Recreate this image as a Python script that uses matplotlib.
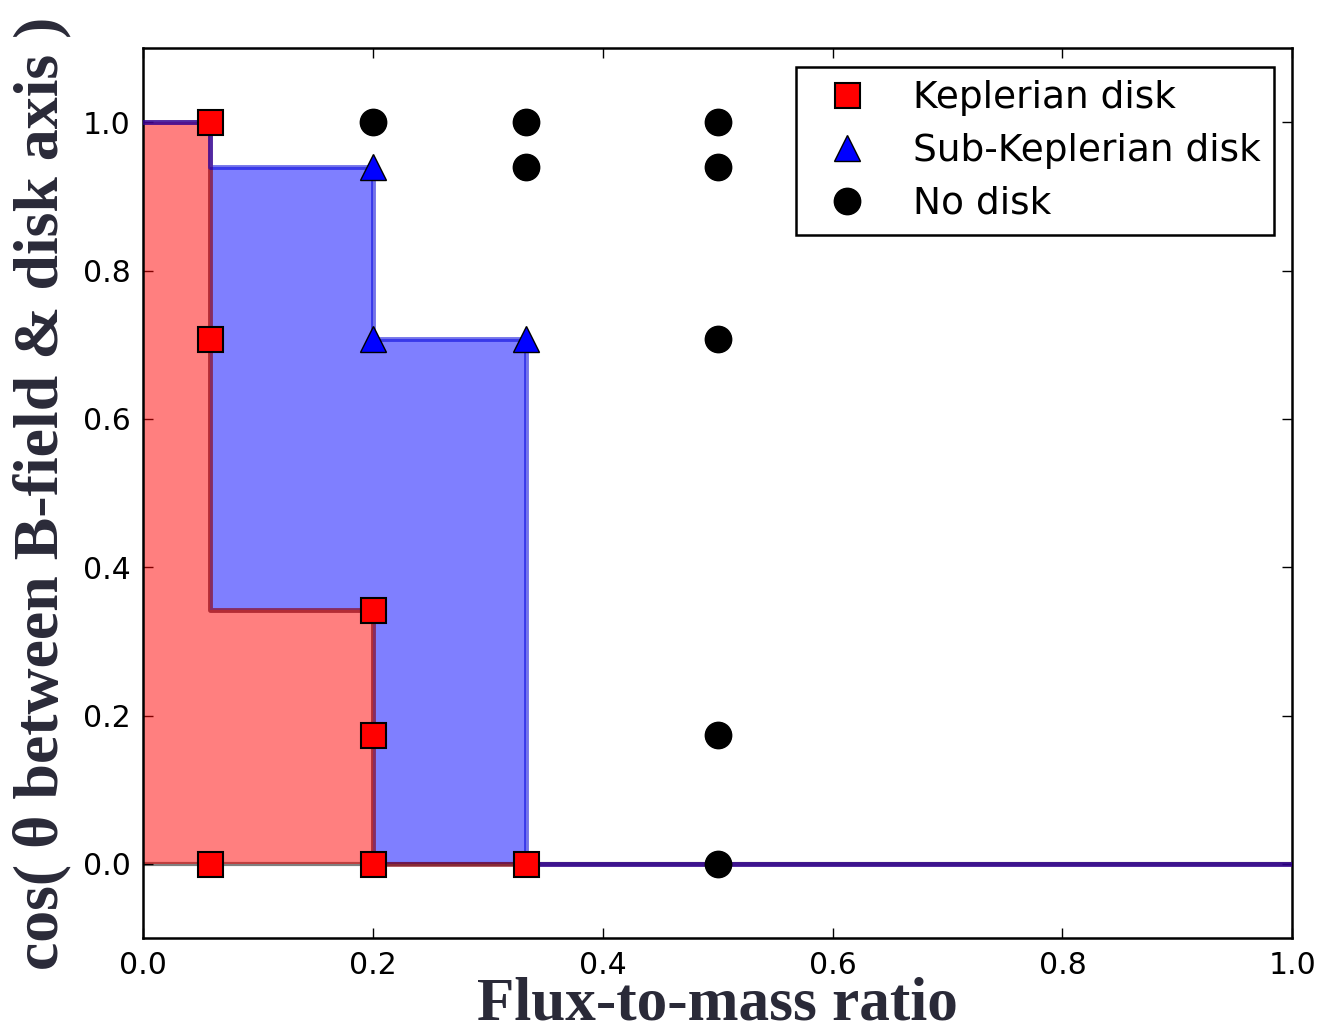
import numpy as np
import matplotlib.pyplot as plt

# cos(theta) levels for 0, 20, 45, 70, 80, 90 degrees
kep_x = [0.058, 0.058, 0.058, 0.2, 0.2, 0.2, 0.333]
kep_y = [1.0, 0.707, 0.0, 0.342, 0.174, 0.0, 0.0]

sub_x = [0.2, 0.2, 0.333]
sub_y = [0.94, 0.707, 0.707]

nod_x = [0.2, 0.333, 0.333, 0.5, 0.5, 0.5, 0.5, 0.5]
nod_y = [1.0, 1.0, 0.94, 1.0, 0.94, 0.707, 0.174, 0.0]

# step boundaries (value holds until next x)
edge_x = [0.0, 0.058, 0.2, 0.333, 1.0]
kep_edge = [1.0, 0.342, 0.0, 0.0, 0.0]
sub_edge = [1.0, 0.94, 0.707, 0.0, 0.0]

label_color = '#2a2a38'
serif = ['Liberation Serif', 'DejaVu Serif']

fig = plt.figure(figsize=(13.21, 10.28), dpi=100)
ax = fig.add_axes([0.1083, 0.0875, 0.8700, 0.8658])

ax.axhline(0.0, color='gray', lw=3, zorder=1)
ax.fill_between(edge_x, 0, kep_edge, step='post', facecolor='red', alpha=0.5, lw=0, zorder=2)
ax.fill_between(edge_x, kep_edge, sub_edge, step='post', facecolor='blue', alpha=0.5, lw=0, zorder=2)
ax.step(edge_x, kep_edge, where='post', color=(0.55, 0.0, 0.05), alpha=0.65, lw=3.5, zorder=3)
ax.step(edge_x, sub_edge, where='post', color=(0.0, 0.0, 0.85), alpha=0.55, lw=3.5, zorder=3)

ax.plot(kep_x, kep_y, 's', color='red', mec='black', mew=1.5, ms=18, ls='none',
        label='Keplerian disk', zorder=5)
ax.plot(sub_x, sub_y, '^', color='blue', mec='black', mew=1.0, ms=19, ls='none',
        label='Sub-Keplerian disk', zorder=5)
ax.plot(nod_x, nod_y, 'o', color='black', mec='black', ms=19, ls='none',
        label='No disk', zorder=5)

ax.set_xlim(0.0, 1.0)
ax.set_ylim(-0.1, 1.1)
ax.set_xticks(np.arange(0, 1.01, 0.2))
ax.set_yticks(np.arange(0, 1.01, 0.2))
ax.tick_params(direction='in', length=7, width=1, top=True, right=True,
               labelsize=21.5, pad=9)
for s in ax.spines.values():
    s.set_linewidth(1.8)

ax.set_xlabel('Flux-to-mass ratio', fontsize=44, fontweight='bold',
              family=serif, color=label_color, labelpad=-2)
ax.set_ylabel('cos( \u03b8 between B-field & disk axis )', fontsize=46,
              fontweight='bold', family=serif, color=label_color, labelpad=8)

leg = ax.legend(loc='upper right', numpoints=1, fontsize=27, borderaxespad=0.5,
                handlelength=2.0, handletextpad=0.75, labelspacing=0.45,
                borderpad=0.35, fancybox=False, framealpha=1)
leg.get_frame().set_edgecolor('black')
leg.get_frame().set_linewidth(1.8)

fig.savefig('out.png', dpi=100)
